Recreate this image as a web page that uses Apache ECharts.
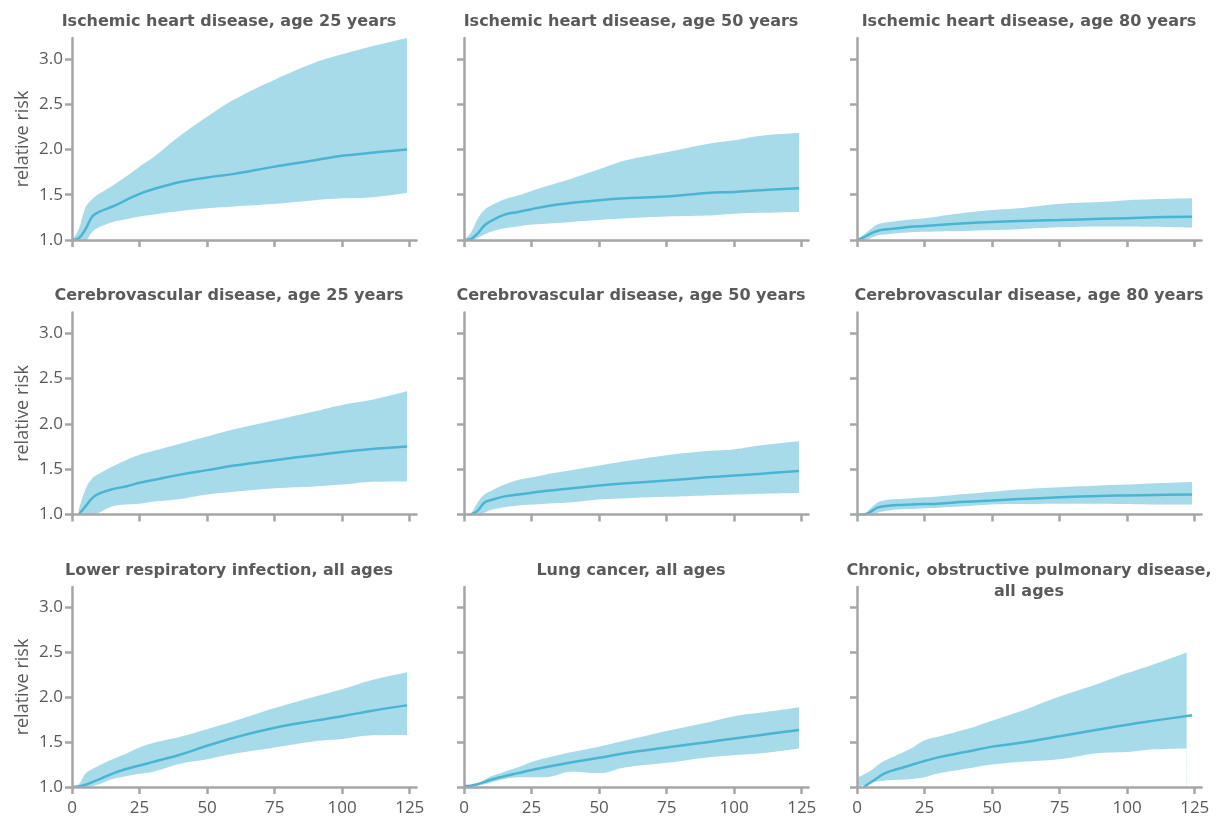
<!DOCTYPE html>
<html><head><meta charset="utf-8">
<script src="https://cdn.jsdelivr.net/npm/echarts@6/dist/echarts.min.js"></script>
<style>html,body{margin:0;padding:0;background:#fff}#chart{width:1220px;height:817px}</style>
</head><body><div id="chart"></div>
<script>
// ---- data ----
const X = [0, 2.5, 5, 7.5, 10, 15, 20, 25, 30, 40, 50, 60, 75, 90, 100, 110, 124];
const X_COPD_BAND = [0, 2.5, 5, 7.5, 10, 15, 20, 25, 30, 40, 50, 60, 75, 90, 100, 110, 122];
const X_TICKS = [0, 25, 50, 75, 100, 125];
const Y_TICKS = [1.0, 1.5, 2.0, 2.5, 3.0];

const titles = [
  'Ischemic heart disease, age 25 years',
  'Ischemic heart disease, age 50 years',
  'Ischemic heart disease, age 80 years',
  'Cerebrovascular disease, age 25 years',
  'Cerebrovascular disease, age 50 years',
  'Cerebrovascular disease, age 80 years',
  'Lower respiratory infection, all ages',
  'Lung cancer, all ages',
  'Chronic, obstructive pulmonary disease,\nall ages'
];

const ihd25Mid = [1.0, 1.02, 1.12, 1.26, 1.31, 1.37, 1.44, 1.51, 1.56, 1.64, 1.69, 1.73, 1.81, 1.88, 1.93, 1.96, 2.0];
const ihd25Hi  = [1.0, 1.12, 1.36, 1.45, 1.51, 1.60, 1.70, 1.81, 1.91, 2.15, 2.36, 2.55, 2.77, 2.96, 3.05, 3.13, 3.23];
const ihd25Lo  = [1.0, 1.0, 1.0, 1.09, 1.14, 1.20, 1.23, 1.26, 1.28, 1.32, 1.35, 1.37, 1.40, 1.44, 1.46, 1.47, 1.52];

const ihd50Mid = [1.0, 1.01, 1.07, 1.16, 1.21, 1.28, 1.31, 1.34, 1.37, 1.41, 1.44, 1.46, 1.48, 1.52, 1.53, 1.55, 1.57];
const ihd50Hi  = [1.0, 1.08, 1.23, 1.33, 1.38, 1.45, 1.49, 1.54, 1.59, 1.68, 1.78, 1.88, 1.97, 2.06, 2.10, 2.15, 2.18];
const ihd50Lo  = [1.0, 1.0, 1.02, 1.06, 1.09, 1.13, 1.15, 1.17, 1.18, 1.20, 1.22, 1.24, 1.26, 1.27, 1.29, 1.30, 1.31];

const ihd80Mid = [1.0, 1.03, 1.07, 1.10, 1.115, 1.13, 1.145, 1.155, 1.165, 1.185, 1.20, 1.21, 1.22, 1.235, 1.24, 1.25, 1.257];
const ihd80Hi  = [1.0, 1.06, 1.12, 1.17, 1.19, 1.21, 1.225, 1.24, 1.26, 1.30, 1.33, 1.35, 1.40, 1.42, 1.44, 1.45, 1.46];
const ihd80Lo  = [1.0, 1.0, 1.02, 1.05, 1.06, 1.075, 1.085, 1.09, 1.095, 1.10, 1.11, 1.12, 1.14, 1.15, 1.15, 1.145, 1.136];

const cvd25Mid = [null, 1.0, 1.09, 1.18, 1.23, 1.28, 1.31, 1.35, 1.38, 1.44, 1.49, 1.54, 1.60, 1.655, 1.69, 1.72, 1.75];
const cvd25Hi  = [null, 1.05, 1.28, 1.40, 1.45, 1.53, 1.60, 1.66, 1.70, 1.78, 1.86, 1.94, 2.04, 2.14, 2.21, 2.26, 2.36];
const cvd25Lo  = [null, 1.0, 1.0, 1.0, 1.02, 1.09, 1.11, 1.12, 1.14, 1.17, 1.22, 1.25, 1.29, 1.31, 1.33, 1.36, 1.365];

const cvd50Mid = [null, 1.0, 1.04, 1.13, 1.16, 1.20, 1.22, 1.24, 1.26, 1.29, 1.32, 1.345, 1.375, 1.41, 1.43, 1.45, 1.48];
const cvd50Hi  = [null, 1.0, 1.13, 1.22, 1.26, 1.33, 1.38, 1.41, 1.44, 1.49, 1.54, 1.59, 1.655, 1.70, 1.72, 1.765, 1.81];
const cvd50Lo  = [null, 1.0, 1.0, 1.02, 1.05, 1.08, 1.10, 1.11, 1.12, 1.135, 1.165, 1.18, 1.195, 1.21, 1.22, 1.23, 1.238];

const cvd80Mid = [1.0, 1.0, 1.03, 1.075, 1.09, 1.105, 1.11, 1.115, 1.12, 1.14, 1.155, 1.17, 1.19, 1.205, 1.21, 1.215, 1.22];
const cvd80Hi  = [1.0, 1.0, 1.07, 1.13, 1.155, 1.17, 1.18, 1.19, 1.20, 1.225, 1.25, 1.275, 1.30, 1.32, 1.33, 1.345, 1.36];
const cvd80Lo  = [1.0, 1.0, 1.0, 1.02, 1.035, 1.055, 1.06, 1.07, 1.075, 1.09, 1.11, 1.115, 1.12, 1.12, 1.115, 1.11, 1.11];

const lriMid = [1.0, 1.005, 1.025, 1.055, 1.085, 1.15, 1.20, 1.24, 1.28, 1.36, 1.46, 1.55, 1.66, 1.74, 1.79, 1.845, 1.91];
const lriHi  = [1.0, 1.03, 1.15, 1.20, 1.24, 1.31, 1.37, 1.44, 1.49, 1.56, 1.645, 1.735, 1.88, 2.01, 2.09, 2.185, 2.28];
const lriLo  = [1.0, 1.0, 1.0, 1.01, 1.03, 1.09, 1.12, 1.147, 1.17, 1.26, 1.31, 1.37, 1.44, 1.51, 1.535, 1.575, 1.58];

const lungMid = [1.01, 1.015, 1.03, 1.055, 1.08, 1.12, 1.155, 1.19, 1.22, 1.275, 1.325, 1.38, 1.44, 1.50, 1.54, 1.58, 1.636];
const lungHi  = [1.01, 1.02, 1.04, 1.08, 1.12, 1.17, 1.22, 1.28, 1.32, 1.39, 1.45, 1.52, 1.625, 1.72, 1.79, 1.83, 1.89];
const lungLo  = [1.0, 1.005, 1.015, 1.03, 1.05, 1.09, 1.11, 1.11, 1.11, 1.17, 1.155, 1.22, 1.27, 1.33, 1.355, 1.376, 1.43];

const copdMid = [null, 1.0, 1.05, 1.10, 1.15, 1.20, 1.245, 1.29, 1.33, 1.39, 1.45, 1.49, 1.565, 1.645, 1.695, 1.74, 1.80];
const copdHi  = [1.10, 1.14, 1.18, 1.24, 1.29, 1.36, 1.43, 1.52, 1.56, 1.64, 1.74, 1.84, 2.01, 2.16, 2.27, 2.37, 2.50];
const copdLo  = [1.0, 1.02, 1.04, 1.06, 1.07, 1.08, 1.09, 1.11, 1.15, 1.20, 1.25, 1.28, 1.31, 1.38, 1.39, 1.42, 1.43];

const panels = [
  { mid: ihd25Mid, hi: ihd25Hi, lo: ihd25Lo, bx: X },
  { mid: ihd50Mid, hi: ihd50Hi, lo: ihd50Lo, bx: X },
  { mid: ihd80Mid, hi: ihd80Hi, lo: ihd80Lo, bx: X },
  { mid: cvd25Mid, hi: cvd25Hi, lo: cvd25Lo, bx: X },
  { mid: cvd50Mid, hi: cvd50Hi, lo: cvd50Lo, bx: X },
  { mid: cvd80Mid, hi: cvd80Hi, lo: cvd80Lo, bx: X },
  { mid: lriMid, hi: lriHi, lo: lriLo, bx: X },
  { mid: lungMid, hi: lungHi, lo: lungLo, bx: X },
  { mid: copdMid, hi: copdHi, lo: copdLo, bx: X_COPD_BAND }
];

// ---- layout / style ----
const COL_LEFT = [72, 464, 857];
const ROW_TOP = [38, 312.5, 587];
const GRID_W = 344.5, GRID_H = 202;
const TITLE_X = [229, 631, 1029];
const TITLE_Y = [21, 295, 570];
const AXIS_COLOR = '#a6a6a6';
const TEXT_COLOR = '#5a5a5a';
const LINE_COLOR = '#4ab4d3';
const BAND_COLOR = '#a8dbe9';
const FONT = '"Open Sans", "Noto Sans", sans-serif';
const TITLE_FONT = '"DejaVu Sans", sans-serif';

const grid = [], xAxis = [], yAxis = [], series = [], graphic = [];
panels.forEach((p, i) => {
  const r = Math.floor(i / 3), c = i % 3;
  grid.push({ left: COL_LEFT[c], top: ROW_TOP[r], width: GRID_W, height: GRID_H });
  xAxis.push({
    type: 'value', gridIndex: i, min: 0, max: 127.5, z: 10,
    axisLine: { show: true, lineStyle: { color: AXIS_COLOR, width: 2.5 } },
    axisTick: { show: true, length: 7, customValues: X_TICKS, lineStyle: { color: AXIS_COLOR, width: 2.5 } },
    axisLabel: { show: r === 2, customValues: X_TICKS, margin: 13, color: TEXT_COLOR, fontSize: 17, fontFamily: FONT },
    splitLine: { show: false }
  });
  yAxis.push({
    type: 'value', gridIndex: i, min: 1, max: 3.23, z: 10,
    name: c === 0 ? 'relative risk' : '', nameLocation: 'middle', nameGap: 40,
    nameTextStyle: { color: TEXT_COLOR, fontSize: 18, fontFamily: FONT },
    axisLine: { show: true, lineStyle: { color: AXIS_COLOR, width: 2.5 } },
    axisTick: { show: true, length: 7, customValues: Y_TICKS, lineStyle: { color: AXIS_COLOR, width: 2.5 } },
    axisLabel: { show: c === 0, customValues: Y_TICKS, margin: 9, color: TEXT_COLOR, fontSize: 17, fontFamily: FONT,
      formatter: v => v.toFixed(1) },
    splitLine: { show: false }
  });
  // upper bound: filled down to axis start in band colour
  series.push({
    type: 'line', xAxisIndex: i, yAxisIndex: i,
    data: p.bx.map((x, k) => [x, p.hi[k]]),
    smooth: 0.4, showSymbol: false, silent: true,
    lineStyle: { width: 0, opacity: 0 }, areaStyle: { color: BAND_COLOR, opacity: 1, origin: 'start' }, z: 1
  });
  // lower bound: masks below the band with background colour
  series.push({
    type: 'line', xAxisIndex: i, yAxisIndex: i,
    data: p.bx.map((x, k) => [x, p.lo[k]]),
    smooth: 0.4, showSymbol: false, silent: true,
    lineStyle: { width: 0, opacity: 0 }, areaStyle: { color: '#ffffff', opacity: 1, origin: 'start' }, z: 2
  });
  series.push({
    type: 'line', xAxisIndex: i, yAxisIndex: i,
    data: X.map((x, k) => [x, p.mid[k]]),
    smooth: 0.4, showSymbol: false, silent: true,
    lineStyle: { color: LINE_COLOR, width: 2.5 }, z: 3
  });
  graphic.push({
    type: 'text', x: TITLE_X[c], y: TITLE_Y[r] - 10, z: 100,
    style: { text: titles[i], textAlign: 'center', textVerticalAlign: 'top',
      fill: TEXT_COLOR, font: 'bold 16px ' + TITLE_FONT, lineHeight: 21.5 }
  });
});

const chart = echarts.init(document.getElementById('chart'), null, { renderer: 'canvas' });
chart.setOption({
  animation: false,
  backgroundColor: '#ffffff',
  grid, xAxis, yAxis, series, graphic
});
</script>
</body></html>
